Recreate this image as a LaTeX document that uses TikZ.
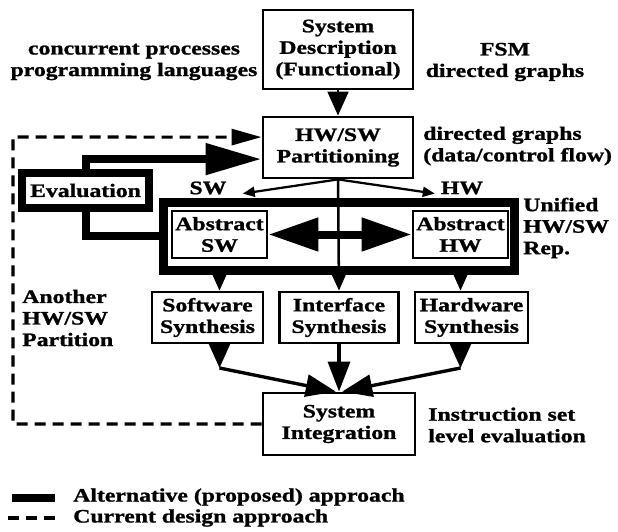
\documentclass[tikz,border=0pt]{standalone}
\usepackage{fontspec}
\setmainfont{Liberation Serif}[FakeStretch=1.25, BoldFeatures={FakeBold=1.2}]
\usetikzlibrary{arrows.meta}

\begin{document}
\begin{tikzpicture}[
    x=0.025cm, y=-0.025cm,
    font=\fontsize{13.5}{15.3}\selectfont\bfseries,
    box/.style={
        draw=black,
        line width=2pt,
        align=center,
        inner sep=0pt
    },
    thickbox/.style={
        draw=black,
        line width=0.2cm,
        align=center,
        inner sep=0pt
    },
    lbl/.style={
        inner sep=0pt,
        align=left
    },
    arr/.style={line width=1.8pt, -{Triangle[length=0.6cm,width=0.52cm]}},
    small/.style={line width=1.6pt, -{Triangle[length=0.3cm,width=0.25cm]}},
    merge/.style={line width=2.4pt, -{Triangle[length=0.75cm,width=0.55cm]}},
    alt/.style={line width=0.2cm},
    current/.style={line width=2.2pt, dash pattern=on 0.275cm off 0.175cm}
]
\useasboundingbox (0,0) rectangle (618,532);

% top row
\node[box, minimum width=3.75cm, minimum height=1.975cm] (sysdesc) at (338,49.5)
{System\\Description\\(Functional)};
\node[box, minimum width=3.75cm, minimum height=1.525cm] (part) at (338,147.5)
{HW/SW\\Partitioning};

\node[lbl, align=center] (langs) at (134,62)
{concurrent processes\\programming languages};
\node[lbl, align=center] (fsm) at (505,62)
{FSM\\directed graphs};
\node[lbl, anchor=west] (flow) at (423,146)
{directed graphs\\(data/control flow)};

% evaluation and unified representation
\node[thickbox, minimum width=3.15cm, minimum height=0.875cm] (eval) at (85.5,190.5)
{Evaluation};
\node[draw=black, line width=0.225cm, minimum width=8.7625cm, minimum height=1.6875cm,
      inner sep=0pt] (unified) at (338.75,236.25) {};
\node[box, minimum width=2.375cm, minimum height=1.175cm] (absw) at (219.5,234.5)
{Abstract\\SW};
\node[box, minimum width=2.375cm, minimum height=1.175cm] (abhw) at (460.5,234.5)
{Abstract\\HW};

\node[lbl] (swlbl) at (208,188) {SW};
\node[lbl] (hwlbl) at (462,188) {HW};
\node[lbl, anchor=west] (unilbl) at (523,228) {Unified\\HW/SW\\Rep.};
\node[lbl, anchor=west] (another) at (22,318) {Another\\HW/SW\\Partition};

% synthesis row
\node[box, minimum width=2.775cm, minimum height=1.275cm] (sws) at (207.5,317.5)
{Software\\Synthesis};
\node[box, minimum width=2.975cm, minimum height=1.275cm] (ifs) at (339,317.5)
{Interface\\Synthesis};
\node[box, minimum width=2.825cm, minimum height=1.275cm] (hws) at (471.5,317.5)
{Hardware\\Synthesis};

\node[box, minimum width=3.8cm, minimum height=1.55cm] (sysint) at (339,424)
{System\\Integration};
\node[lbl, anchor=west] (isl) at (428,425)
{Instruction set\\level evaluation};

\coordinate (dcorner) at (13,137);
\coordinate (swbend) at (219.5,368);
\coordinate (hwbend) at (460.5,368);

% connectors
\draw[arr] (sysdesc) -- (part);
\draw[current, -{Triangle[length=0.75cm,width=0.4cm]}]
    (sysint.west) -| (dcorner) -- ([yshift=0.26cm]part.west);
\draw[alt, -{Triangle[length=1.4cm,width=0.75cm]}]
    (eval.north) |- ([yshift=-0.29cm]part.west);
\draw[alt] (eval.south) |- (unified.west);

\draw[small] (part.south) -- ([xshift=-2.4cm,yshift=0.11cm]unified.north);
\draw[small] (part.south) -- ([xshift=2.4cm,yshift=0.11cm]unified.north);
\draw[arr] (part.south) -- (ifs.north);

\draw[line width=0.2cm, {Triangle[length=1.25cm,width=0.8cm]}-{Triangle[length=1.25cm,width=0.8cm]}]
    (absw.east) -- (abhw.west);

\draw[arr] (absw.south |- unified.south) -- (absw.south |- sws.north);
\draw[arr] (abhw.south |- unified.south) -- (abhw.south |- hws.north);

\draw[arr] (absw.south |- sws.south) -- (swbend);
\draw[arr] (abhw.south |- hws.south) -- (hwbend);
\draw[merge] (swbend) -- ([xshift=-0.08cm]sysint.north);
\draw[merge] (hwbend) -- ([xshift=0.08cm]sysint.north);
\draw[merge] (ifs.south) -- (sysint.north);

% legend
\coordinate (legA) at (12,498);
\coordinate (legB) at (8,518);
\draw[alt] (legA) -- ++(43,0);
\draw[current] (legB) -- ++(47,0);
\node[lbl, anchor=west] (altlbl) at (73,497) {Alternative (proposed) approach};
\node[lbl, anchor=west] (curlbl) at (73,518) {Current design approach};

\end{tikzpicture}
\end{document}
